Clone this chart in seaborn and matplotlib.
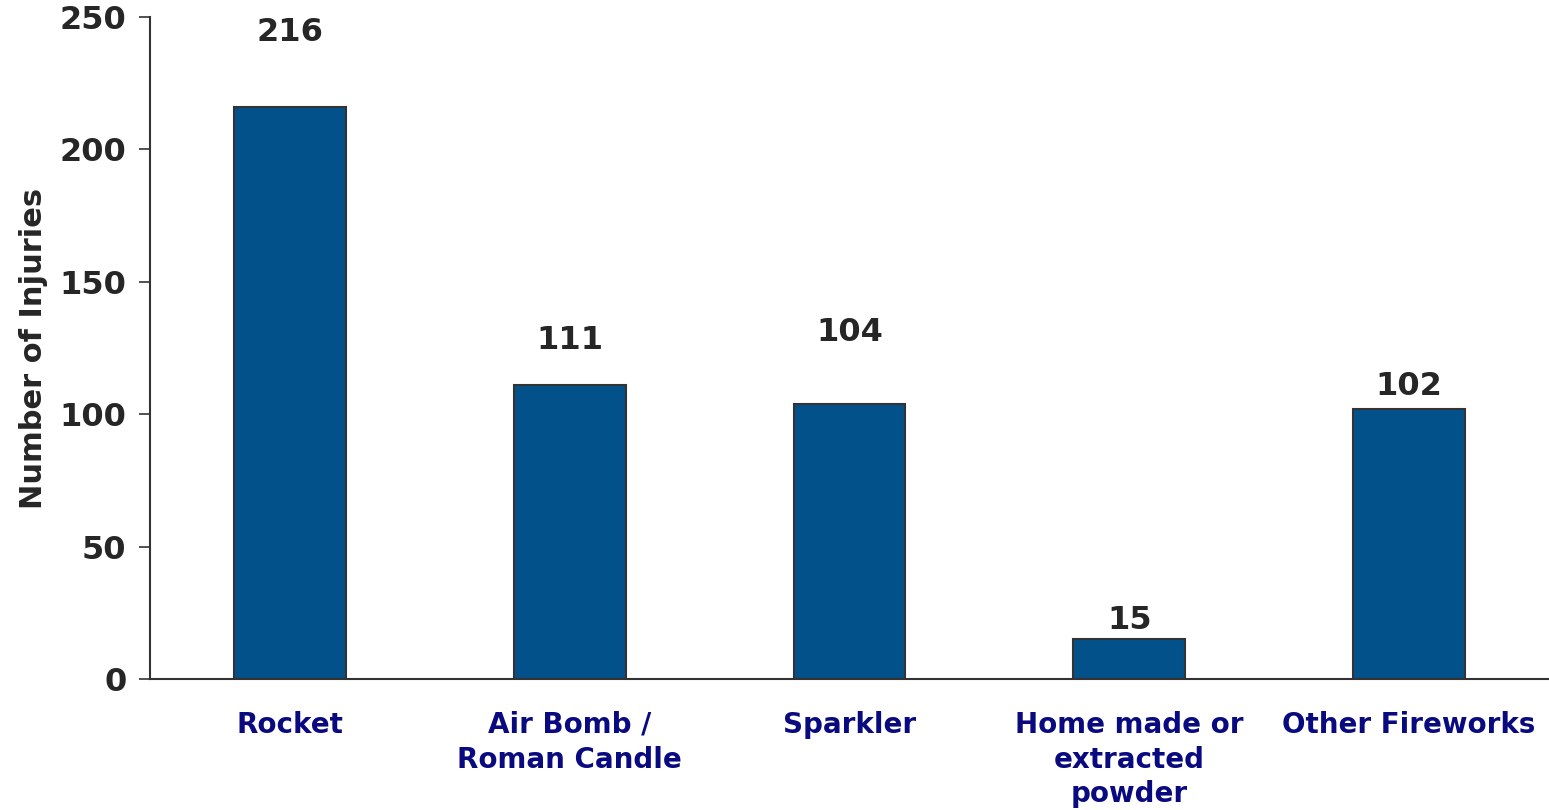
import matplotlib
matplotlib.use("Agg")
import matplotlib.pyplot as plt
import numpy as np
import pandas as pd
import seaborn as sns

# datos
categorias = ["Rocket", "Air Bomb /\nRoman Candle", "Sparkler",
              "Home made or\nextracted\npowder", "Other Fireworks"]
lesiones = [216, 111, 104, 15, 102]
y_ticks = [0, 50, 100, 150, 200, 250]

# separacion de cada etiqueta sobre su barra (como en el original)
desfase_etiqueta = [28, 17, 27, 7, 8.5]

COLOR_BARRA = "#02518A"
COLOR_TEXTO = "#262626"
COLOR_CAT = "#0A0A80"

sns.set_theme(style="white")
plt.rcParams["font.family"] = ["DejaVu Sans"]

df = pd.DataFrame({"categoria": categorias, "lesiones": lesiones})

fig = plt.figure(figsize=(15.49, 8.10), dpi=100)
ax = fig.add_axes([150 / 1549, 131 / 810, 1 - 150 / 1549, 662 / 810])

sns.barplot(data=df, x="categoria", y="lesiones", color=COLOR_BARRA,
            width=0.4, edgecolor="#333333", linewidth=1.5, saturation=1, ax=ax)

for i, (v, d) in enumerate(zip(lesiones, desfase_etiqueta)):
    ax.text(i, v + d, str(v), ha="center", va="center",
            fontsize=23, fontweight="bold", color=COLOR_TEXTO)

ax.set_xlim(-0.5, 4.5)
ax.set_ylim(0, 250)
ax.set_yticks(y_ticks)
ax.set_yticklabels([str(t) for t in y_ticks], fontsize=23,
                   fontweight="bold", color=COLOR_TEXTO)
ax.set_xticks(range(len(categorias)))
ax.set_xticklabels(categorias, fontsize=20, fontweight="bold",
                   color=COLOR_CAT, linespacing=1.3, va="top")
ax.set_xticks(np.arange(-0.5, 5, 1), minor=True)
ax.tick_params(axis="x", which="major", length=0, pad=23)
ax.tick_params(axis="x", which="minor", length=8, width=1.2,
               color="#333333", direction="out")
ax.tick_params(axis="y", length=8, width=1.2, color="#333333",
               direction="out", left=True, pad=9)

ax.set_xlabel("")
ax.set_ylabel("Number of Injuries", fontsize=22, fontweight="bold",
              color=COLOR_TEXTO, labelpad=8)

for lado in ["top", "right"]:
    ax.spines[lado].set_visible(False)
for lado in ["left", "bottom"]:
    ax.spines[lado].set_color("#333333")
    ax.spines[lado].set_linewidth(1.5)

fig.savefig("out.png", dpi=100)
plt.close(fig)
